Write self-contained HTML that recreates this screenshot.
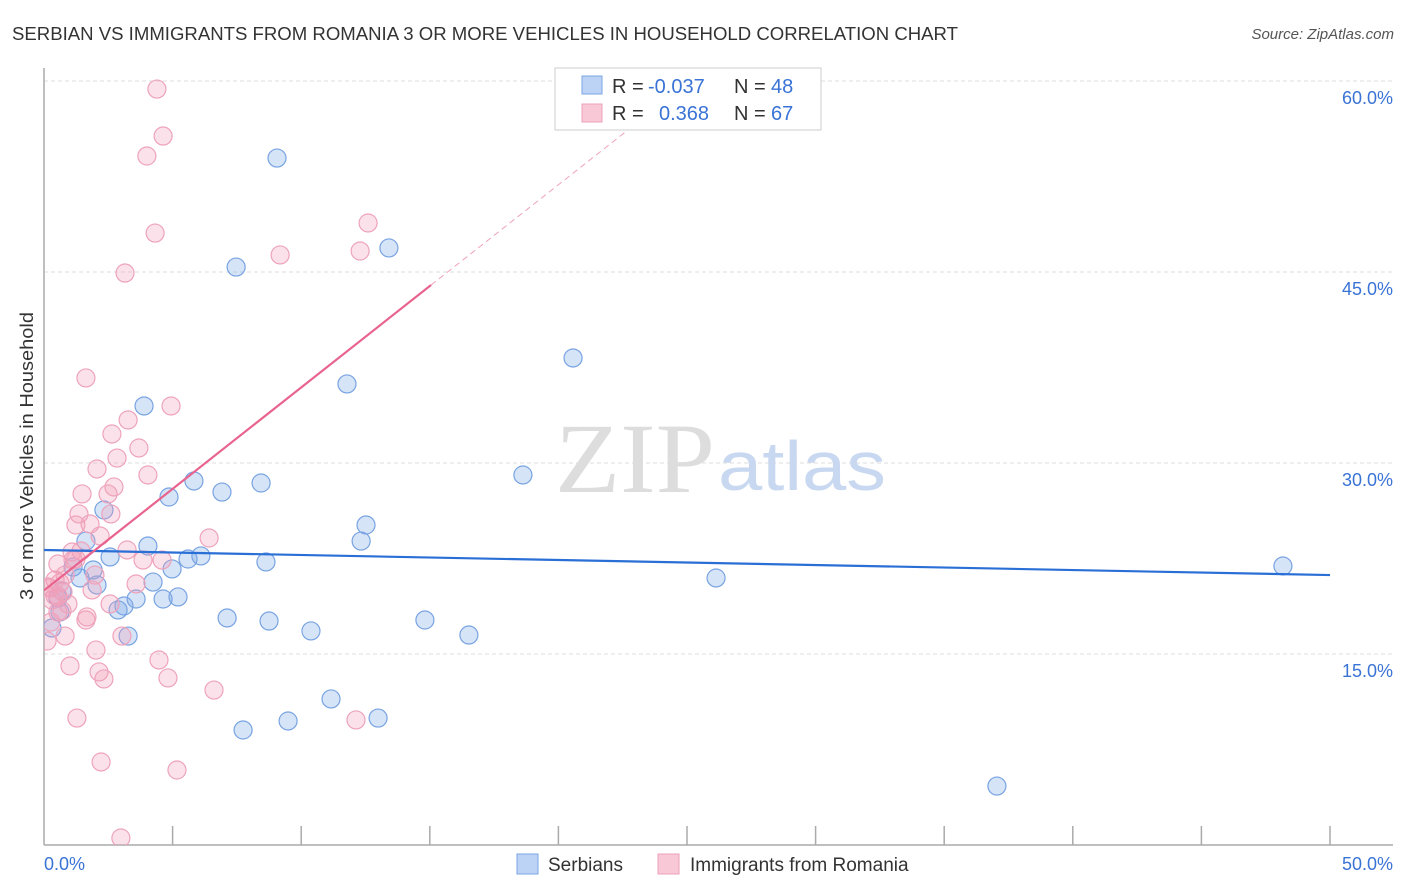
<!DOCTYPE html>
<html><head><meta charset="utf-8"><style>
body{margin:0;background:#fff;font-family:"Liberation Sans",sans-serif}
svg{display:block}
</style></head><body>
<svg width="1406" height="892" viewBox="0 0 1406 892">
<defs><clipPath id="pc"><rect x="44" y="60" width="1360" height="785"/></clipPath></defs>
<text x="12" y="40" font-size="18" fill="#333" textLength="946" lengthAdjust="spacingAndGlyphs">SERBIAN VS IMMIGRANTS FROM ROMANIA 3 OR MORE VEHICLES IN HOUSEHOLD CORRELATION CHART</text>
<text x="1394" y="39" font-size="15" fill="#555" font-style="italic" text-anchor="end">Source: ZipAtlas.com</text>
<g id="grid"></g>
<text x="555" y="492" font-size="100" fill="#ddd" font-family="Liberation Serif,serif" textLength="160" lengthAdjust="spacingAndGlyphs">ZIP</text>
<text x="718" y="490" font-size="70" fill="#c8d8f0" textLength="168" lengthAdjust="spacingAndGlyphs">atlas</text>
<line x1="44" y1="68" x2="44" y2="845" stroke="#aaa" stroke-width="1.5"/>
<line x1="44" y1="845" x2="1393" y2="845" stroke="#aaa" stroke-width="1.5"/>
<g id="xticks"></g>
<text x="33" y="456" font-size="18" fill="#333" text-anchor="middle" transform="rotate(-90 33 456)" textLength="288" lengthAdjust="spacingAndGlyphs">3 or more Vehicles in Household</text>
<text x="44" y="870" font-size="18" fill="#3a73d6">0.0%</text>
<text x="1393" y="870" font-size="18" fill="#3a73d6" text-anchor="end">50.0%</text>
<g id="marks" clip-path="url(#pc)"></g>
<g id="trends" clip-path="url(#pc)"></g>
<g>
<rect x="555" y="68" width="266" height="62" fill="#fff" stroke="#ccc"/>
<rect x="582" y="76" width="20" height="18" fill="#bcd3f5" stroke="#7aa5e3"/>
<rect x="582" y="104" width="20" height="18" fill="#f9c8d6" stroke="#eca0b8"/>
<text x="612" y="93" font-size="20" fill="#333">R = <tspan x="648" fill="#3a73d6">-0.037</tspan><tspan x="734">N = </tspan><tspan x="771" fill="#3a73d6">48</tspan></text>
<text x="612" y="120" font-size="20" fill="#333">R = <tspan x="659" fill="#3a73d6">0.368</tspan><tspan x="734">N = </tspan><tspan x="771" fill="#3a73d6">67</tspan></text>
</g>
<g>
<rect x="517" y="854" width="21" height="20" fill="#bcd3f5" stroke="#7aa5e3"/>
<text x="548" y="871" font-size="19" fill="#333">Serbians</text>
<rect x="658" y="854" width="21" height="20" fill="#f9c8d6" stroke="#eca0b8"/>
<text x="690" y="871" font-size="19" fill="#333">Immigrants from Romania</text>
</g>
</svg>
<script>
const yTicks=[15,30,45,60];
const yTickLabels=["15.0%","30.0%","45.0%","60.0%"];
const xTicks=[5,10,15,20,25,30,35,40,45,50];
const blueX=[9.06,7.47,13.41,20.57,11.78,3.89,18.62,5.83,6.92,8.44,4.86,2.33,12.52,12.33,1.63,4.04,2.57,5.60,6.10,8.63,4.98,26.13,48.17,4.24,2.06,1.13,1.91,1.40,4.63,3.58,5.21,3.11,2.88,0.54,0.62,0.31,7.12,8.75,10.38,14.81,16.52,3.27,11.16,12.99,9.49,7.74,37.05,0.70];
const blueY=[53.95,45.39,46.89,38.25,36.21,34.48,29.06,28.59,27.72,28.43,27.33,26.31,25.13,23.87,23.87,23.48,22.62,22.46,22.70,22.23,21.68,20.97,21.91,20.65,20.42,21.83,21.60,20.97,19.32,19.32,19.48,18.77,18.46,19.40,18.30,17.04,17.83,17.59,16.81,17.67,16.49,16.41,11.47,9.97,9.74,9.03,4.63,19.95];
const pinkX=[4.39,4.63,4.00,4.32,12.60,3.15,9.18,12.29,1.63,4.94,3.27,2.64,3.69,2.84,2.06,4.04,1.48,2.72,2.49,1.36,2.60,1.24,1.79,6.42,2.18,3.23,1.44,1.09,0.54,4.59,3.85,1.24,1.98,3.58,0.62,0.43,0.16,0.74,0.54,1.87,0.31,0.93,2.57,0.70,1.63,1.67,0.27,0.82,3.03,0.12,2.02,4.47,1.01,2.14,2.33,4.82,6.61,1.28,12.13,2.22,5.17,2.99,0.23,0.54,0.43,1.13,0.82];
const pinkY=[59.37,55.68,54.11,48.06,48.85,44.92,46.34,46.65,36.68,34.48,33.38,32.28,31.18,30.39,29.53,29.06,27.57,28.12,27.57,26.00,26.00,25.13,25.21,24.11,24.27,23.17,23.09,23.01,22.07,22.38,22.38,22.46,21.20,20.50,20.58,20.81,20.26,19.87,19.56,20.03,19.24,18.93,18.93,18.38,17.67,17.91,17.51,16.41,16.41,16.02,15.31,14.53,14.06,13.59,13.04,13.12,12.17,9.97,9.82,6.52,5.89,0.55,20.18,18.30,19.56,22.38,21.20];
const blueTrend=[0,23.17,50,21.2];
const pinkTrend=[0,20.0,15.05,43.98,25.5,60.6];
const NS='http://www.w3.org/2000/svg';
const sx=v=>44+v*25.72, sy=v=>845-v*12.733;
function mk(t,a,p){const e=document.createElementNS(NS,t);for(const k in a)e.setAttribute(k,a[k]);p.appendChild(e);return e;}
const grid=document.getElementById('grid');
yTicks.forEach((t,i)=>{
 const l=mk('line',{x1:44,x2:1393,y1:sy(t),y2:sy(t),stroke:'#ddd','stroke-dasharray':'4 3'},grid);
 
 
 const tx=mk('text',{x:1393,y:sy(t)+23,'font-size':18,fill:'#3a73d6','text-anchor':'end'},grid);
 tx.textContent=yTickLabels[i];
 
 
});
const xt=document.getElementById('xticks');
xTicks.forEach(t=>{
 const l=mk('line',{x1:sx(t),x2:sx(t),y1:826,y2:845,stroke:'#aaa','stroke-width':1.5},xt);
 
 
});
const marks=document.getElementById('marks');
blueX.forEach((x,i)=>{
 const c=mk('circle',{cx:sx(x),cy:sy(blueY[i]),r:9,fill:'rgba(120,165,230,0.3)',stroke:'#78a3e2','stroke-width':1.2},marks);
 
 
});
pinkX.forEach((x,i)=>{
 const c=mk('circle',{cx:sx(x),cy:sy(pinkY[i]),r:9,fill:'rgba(242,160,185,0.3)',stroke:'#eea3bb','stroke-width':1.2},marks);
 
 
});
const tr=document.getElementById('trends');
const bl=mk('line',{x1:sx(blueTrend[0]),y1:sy(blueTrend[1]),x2:sx(blueTrend[2]),y2:sy(blueTrend[3]),stroke:'#2a6fd6','stroke-width':2.2},tr);


const pl=mk('line',{x1:sx(pinkTrend[0]),y1:sy(pinkTrend[1]),x2:sx(pinkTrend[2]),y2:sy(pinkTrend[3]),stroke:'#e8648f','stroke-width':2.2},tr);


const pd=mk('line',{x1:sx(pinkTrend[2]),y1:sy(pinkTrend[3]),x2:sx(pinkTrend[4]),y2:sy(pinkTrend[5]),stroke:'#eea3bb','stroke-width':1,'stroke-dasharray':'6 4'},tr);


</script>
</body></html>
